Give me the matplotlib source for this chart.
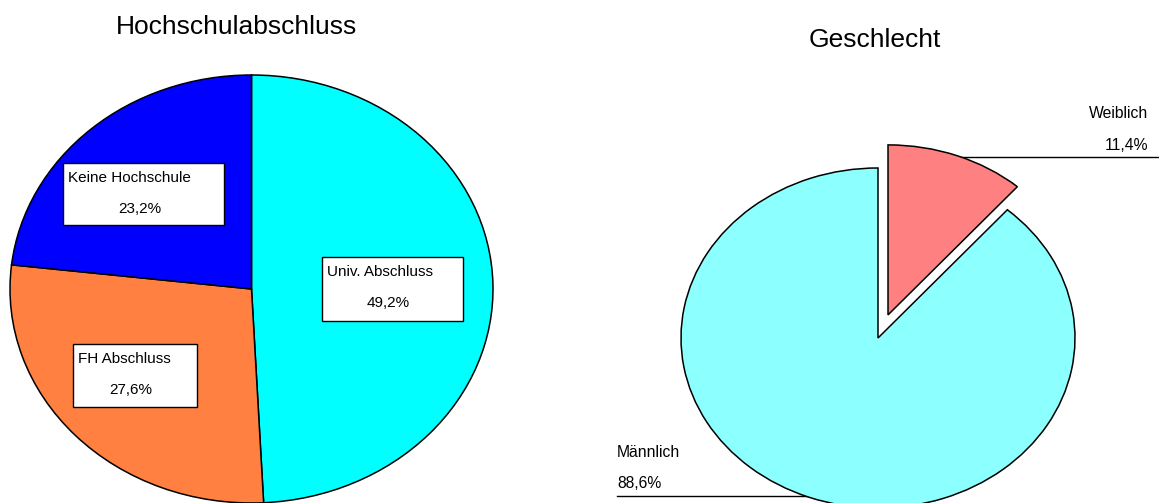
import matplotlib
matplotlib.use("Agg")
import matplotlib.pyplot as plt
from matplotlib.patches import Rectangle
from matplotlib.lines import Line2D

W, H = 1159, 503

# Hochschulabschluss
edu_labels = ["Univ. Abschluss", "FH Abschluss", "Keine Hochschule"]
edu_values = [49.2, 27.6, 23.2]
edu_colors = ["#00FFFF", "#FF8040", "#0000FF"]

# Geschlecht
sex_labels = ["Weiblich", "Männlich"]
sex_values = [11.4, 88.6]
sex_colors = ["#FF8080", "#8CFFFF"]
sex_explode = [0.145, 0]

# label boxes of the left pie (pixel coords: x0, y0, x1, y1)
edu_boxes = [(322, 257, 463, 321), (73, 344, 197, 407), (63, 163, 224, 225)]


def pct(v):
    return f"{v:.1f}%".replace(".", ",")


def fx(x):
    return x / W


def fy(y):
    return 1 - y / H


def pie_axes(fig, cx, cy, rx, ry, pad=1.05):
    ax = fig.add_axes([fx(cx - rx * pad), fy(cy + ry * pad),
                       2 * rx * pad / W, 2 * ry * pad / H])
    return ax


def finish(ax, pad=1.05):
    ax.set_aspect("auto")
    ax.set_xlim(-pad, pad)
    ax.set_ylim(-pad, pad)
    ax.axis("off")


plt.rcParams["font.family"] = ["Liberation Sans", "DejaVu Sans"]
fig = plt.figure(figsize=(W / 100, H / 100), dpi=100)

# left pie
ax1 = pie_axes(fig, 251.5, 289, 241.5, 214)
ax1.pie(edu_values, colors=edu_colors, startangle=90, counterclock=False,
        wedgeprops=dict(edgecolor="black", linewidth=1.1))
finish(ax1)

fig.text(fx(236), fy(34), "Hochschulabschluss", ha="center", va="baseline", fontsize=19)

for name, val, (x0, y0, x1, y1) in zip(edu_labels, edu_values, edu_boxes):
    fig.add_artist(Rectangle((fx(x0), fy(y1)), (x1 - x0) / W, (y1 - y0) / H,
                             transform=fig.transFigure, facecolor="white",
                             edgecolor="black", linewidth=1.0, zorder=5))
    fig.text(fx(x0 + 5), fy(y0 + 19), name, ha="left", va="baseline",
             fontsize=11, zorder=6)
    fig.text(fx((x0 + x1) / 2 - 4), fy(y0 + 50), pct(val), ha="center",
             va="baseline", fontsize=11, zorder=6)

# right pie
ax2 = pie_axes(fig, 878, 338, 197, 170)
ax2.pie(sex_values, colors=sex_colors, explode=sex_explode, startangle=90,
        counterclock=False, wedgeprops=dict(edgecolor="black", linewidth=1.1))
finish(ax2)

fig.text(fx(875), fy(47), "Geschlecht", ha="center", va="baseline", fontsize=19)

# leader lines drawn below the pie
fig.add_artist(Line2D([fx(945), fx(1159)], [fy(157), fy(157)],
                      transform=fig.transFigure, color="black", linewidth=1.0, zorder=-1))
fig.add_artist(Line2D([fx(617), fx(815)], [fy(496), fy(496)],
                      transform=fig.transFigure, color="black", linewidth=1.0, zorder=-1))

fig.text(fx(1148), fy(118), sex_labels[0], ha="right", va="baseline", fontsize=11.3)
fig.text(fx(1148), fy(150), pct(sex_values[0]), ha="right", va="baseline", fontsize=11.3)
fig.text(fx(617), fy(457), sex_labels[1], ha="left", va="baseline", fontsize=11.3)
fig.text(fx(617), fy(488), pct(sex_values[1]), ha="left", va="baseline", fontsize=11.3)

fig.savefig("out.png", dpi=100, facecolor="white")
